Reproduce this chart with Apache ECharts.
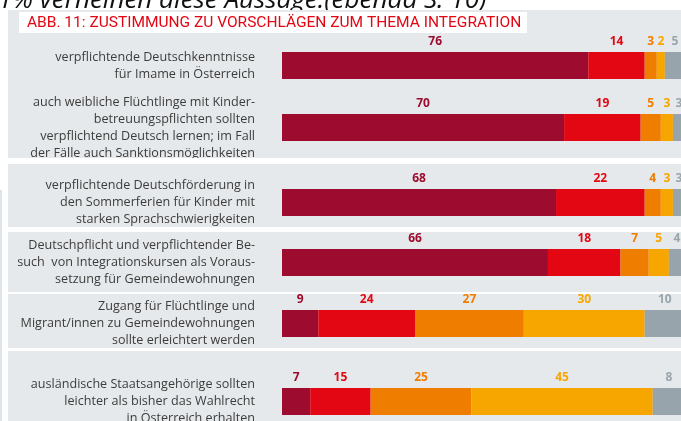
<!DOCTYPE html>
<html>
<head>
<meta charset="utf-8">
<script src="https://cdn.jsdelivr.net/npm/echarts@6/dist/echarts.min.js"></script>
<style>
  html, body { margin: 0; padding: 0; background: #fff; }
  #chart { width: 681px; height: 421px; }
</style>
</head>
<body>
<div id="chart"></div>
<script>
// Aussagen (von oben nach unten)
const categories = [
  'verpflichtende Deutschkenntnisse\nfür Imame in Österreich',
  'auch weibliche Flüchtlinge mit Kinder-\nbetreuungspflichten sollten\nverpflichtend Deutsch lernen; im Fall\nder Fälle auch Sanktionsmöglichkeiten',
  'verpflichtende Deutschförderung in\nden Sommerferien für Kinder mit\nstarken Sprachschwierigkeiten',
  'Deutschpflicht und verpflichtender Be-\nsuch  von Integrationskursen als Voraus-\nsetzung für Gemeindewohnungen',
  'Zugang für Flüchtlinge und\nMigrant/innen zu Gemeindewohnungen\nsollte erleichtert werden',
  'ausländische Staatsangehörige sollten\nleichter als bisher das Wahlrecht\nin Österreich erhalten'
];
const seriesNames = ['sehr dafür', 'eher dafür', 'eher dagegen', 'sehr dagegen', 'weiß nicht / k. A.'];
const sehrDafuer   = [76, 70, 68, 66, 9, 7];
const eherDafuer   = [14, 19, 22, 18, 24, 15];
const eherDagegen  = [3, 5, 4, 7, 27, 25];
const sehrDagegen  = [2, 3, 3, 5, 30, 45];
const weissNicht   = [5, 3, 3, 4, 10, 8];

const values = [sehrDafuer, eherDafuer, eherDagegen, sehrDagegen, weissNicht];
const colors = ['#9d0b2f', '#e30613', '#ef7d00', '#f7a600', '#97a4ab'];
const labelColors = ['#9d0b2f', '#e30613', '#ef7d00', '#f7a600', '#9aa6ad'];

// Zeilenlayout (oberer Rand jedes Balkens)
const rowTop = [52, 114, 189, 249, 310, 388];
const barH = 27;

var myChart = echarts.init(document.getElementById('chart'));

var grids = [], xAxes = [], yAxes = [], series = [];
categories.forEach(function (cat, i) {
  grids.push({ left: 282, width: 403, top: rowTop[i], height: barH, outerBoundsMode: 'none', containLabel: false });
  xAxes.push({ type: 'value', gridIndex: i, min: 0, max: 100, show: false });
  yAxes.push({
    type: 'category', gridIndex: i, data: [cat],
    axisLine: { show: false }, axisTick: { show: false },
    axisLabel: {
      margin: 27, color: '#3c3c3b', fontFamily: 'Open Sans',
      fontSize: 12.6, lineHeight: 17, align: 'right',
      padding: i === 0 ? [6, 0, 0, 0] : 0
    }
  });
  values.forEach(function (arr, j) {
    series.push({
      name: seriesNames[j], type: 'bar', stack: 'row' + i,
      xAxisIndex: i, yAxisIndex: i, barWidth: barH,
      data: [arr[i]],
      itemStyle: { color: colors[j] },
      label: {
        show: true, position: 'top', distance: 4,
        color: labelColors[j], fontFamily: 'Open Sans',
        fontWeight: 'bold', fontSize: 12
      },
      silent: true
    });
  });
});

var gaps = [[158, 6], [227, 5], [292, 2], [348, 3]];

var option = {
  animation: false,
  grid: grids,
  xAxis: xAxes,
  yAxis: yAxes,
  series: series,
  graphic: [
    {
      type: 'text', z: -20, x: -2, y: 14,
      style: {
        text: '1% verneinen diese Aussage.(ebenda S. 10)',
        fill: '#111', font: 'italic 26px "Open Sans"', verticalAlign: 'bottom'
      }
    },
    { type: 'rect', z: -10, shape: { x: 8, y: 10, width: 673, height: 411 }, style: { fill: '#e6e9ec' } },
    { type: 'rect', z: -9, shape: { x: 0, y: 190, width: 2, height: 231 }, style: { fill: '#dde4ea' } }
  ].concat(gaps.map(function (g) {
    return { type: 'rect', z: 100, shape: { x: 8, y: g[0], width: 673, height: g[1] }, style: { fill: '#ffffff' } };
  })).concat([
    { type: 'rect', z: 100, shape: { x: 19, y: 12, width: 508, height: 21 }, style: { fill: '#ffffff' } },
    {
      type: 'text', z: 101, x: 27, y: 23,
      style: {
        text: 'ABB. 11: ZUSTIMMUNG ZU VORSCHLÄGEN ZUM THEMA INTEGRATION',
        fill: '#e30613', font: '15.5px Roboto', verticalAlign: 'middle'
      }
    }
  ])
};
myChart.setOption(option);
window.addEventListener('resize', function () {
  myChart.resize();
});
</script>
</body>
</html>
